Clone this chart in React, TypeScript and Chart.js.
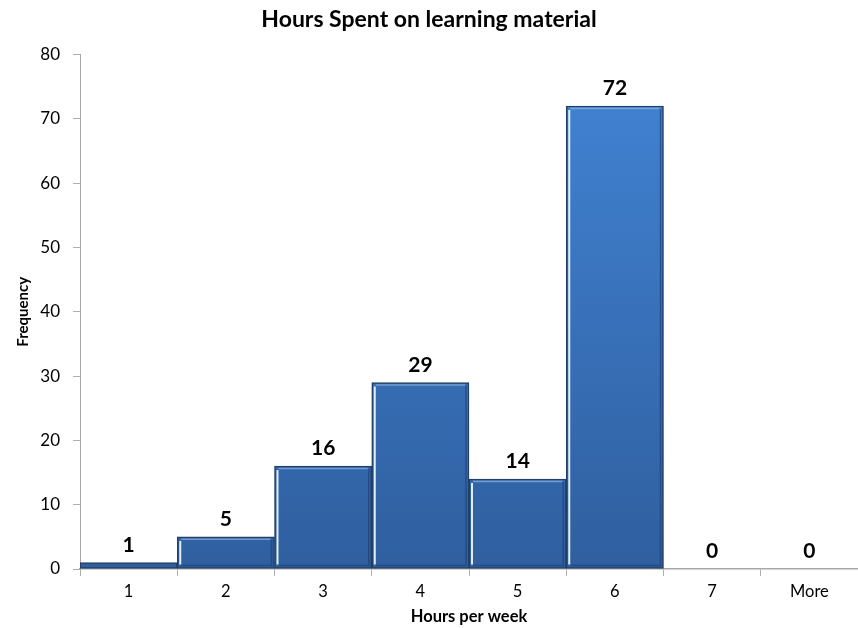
import React, { useEffect, useRef } from "react";
import { Chart, registerables } from "chart.js";

Chart.register(...registerables);

const categories = ["1", "2", "3", "4", "5", "6", "7", "More"];
const frequencies = [1, 5, 16, 29, 14, 72, 0, 0];
const yTicks = [0, 10, 20, 30, 40, 50, 60, 70, 80];

const FONT = "Lato, 'Open Sans', 'Liberation Sans', sans-serif";

const valueLabels = {
  id: "valueLabels",
  afterDatasetsDraw(chart: any) {
    const ctx = chart.ctx;
    const meta = chart.getDatasetMeta(0);
    ctx.save();
    // bevel highlights
    meta.data.forEach((bar: any, i: number) => {
      if (!frequencies[i]) return;
      const { x, y, width, base } = bar.getProps(["x", "y", "width", "base"], true);
      const left = x - width / 2;
      const right = x + width / 2;
      if (base - y > 6) {
        ctx.strokeStyle = "rgba(235,245,255,0.95)";
        ctx.lineWidth = 2;
        ctx.beginPath();
        ctx.moveTo(left + 3, y + 4);
        ctx.lineTo(left + 3, base - 4);
        ctx.stroke();
        ctx.strokeStyle = "rgba(140,180,230,0.7)";
        ctx.lineWidth = 1.5;
        ctx.beginPath();
        ctx.moveTo(left + 4, y + 2.5);
        ctx.lineTo(right - 4, y + 2.5);
        ctx.stroke();
        ctx.strokeStyle = "rgba(30,60,110,0.6)";
        ctx.beginPath();
        ctx.moveTo(right - 3, y + 3);
        ctx.lineTo(right - 3, base - 3);
        ctx.lineTo(left + 4, base - 3);
        ctx.stroke();
      }
    });
    ctx.fillStyle = "#000";
    ctx.font = `bold 21px ${FONT}`;
    ctx.textAlign = "center";
    ctx.textBaseline = "bottom";
    meta.data.forEach((bar: any, i: number) => {
      const { x, y } = bar.getProps(["x", "y"], true);
      ctx.fillText(String(frequencies[i]), x, y - 7);
    });
    ctx.restore();
  },
};

export default function App() {
  const ref = useRef<HTMLCanvasElement | null>(null);
  useEffect(() => {
    if (!ref.current) return;
    const chart = new Chart(ref.current, {
      type: "bar",
      data: {
        labels: categories,
        datasets: [
          {
            data: frequencies,
            backgroundColor: (c: any) => {
              const area = c.chart.chartArea;
              if (!area) return "#3a74c0";
              const g = c.chart.ctx.createLinearGradient(0, area.top, 0, area.bottom);
              g.addColorStop(0, "#4284d5");
              g.addColorStop(1, "#2f5f9f");
              return g;
            },
            borderColor: "#223f66",
            borderWidth: 1.5,
            borderSkipped: false,
            categoryPercentage: 1,
            barPercentage: 1,
          },
        ],
      },
      options: {
        responsive: false,
        animation: false,
        layout: { padding: { top: 0, right: 0, bottom: 0, left: 0 } },
        plugins: {
          legend: { display: false },
          tooltip: { enabled: false },
          title: {
            display: true,
            text: "Hours Spent on learning material",
            color: "#000",
            font: { family: FONT, size: 23, weight: "bold" },
            padding: { top: 6, bottom: 21 },
          },
        },
        scales: {
          x: {
            offset: true,
            grid: {
              display: true,
              offset: true,
              drawOnChartArea: false,
              drawTicks: true,
              tickLength: 7,
              color: "#b0b0b0",
            },
            border: { display: true, color: "#a8a8a8", width: 1.5 },
            ticks: {
              color: "#000",
              font: { family: FONT, size: 16.5 },
              padding: 6,
              maxRotation: 0,
            },
            title: {
              display: true,
              text: "Hours per week",
              color: "#000",
              font: { family: FONT, size: 16.5, weight: "bold" },
              padding: { top: 0, bottom: 1 },
            },
            afterFit(scale: any) {
              scale.height = 59;
            },
          },
          y: {
            min: 0,
            max: 80,
            afterBuildTicks(scale: any) {
              scale.ticks = yTicks.map((v) => ({ value: v }));
            },
            grid: {
              display: true,
              drawOnChartArea: false,
              drawTicks: true,
              tickLength: 7,
              color: "#b0b0b0",
            },
            border: { display: true, color: "#a8a8a8", width: 1 },
            ticks: {
              color: "#000",
              font: { family: FONT, size: 17 },
              padding: 13,
            },
            title: {
              display: true,
              text: "Frequency",
              color: "#000",
              font: { family: FONT, size: 15, weight: "bold" },
              padding: { top: 14, bottom: 0 },
            },
            afterFit(scale: any) {
              scale.width = 80;
            },
          },
        },
      },
      plugins: [valueLabels],
    });
    return () => chart.destroy();
  }, []);
  return (
    <div style={{ position: "fixed", left: 0, top: 0, width: 858, height: 628, background: "#fff" }}>
      <canvas ref={ref} width={858} height={628} style={{ display: "block" }} />
    </div>
  );
}
